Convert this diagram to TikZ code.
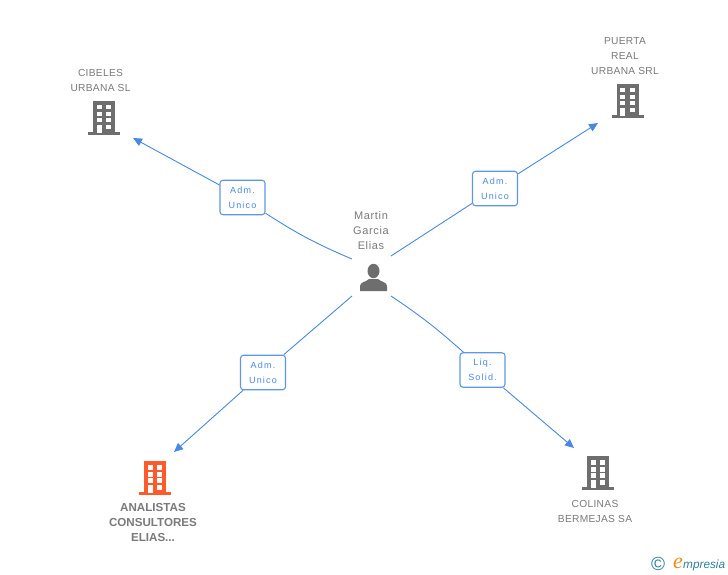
\documentclass[tikz,border=0pt]{standalone}
\usepackage{fontspec}
\setmainfont{Liberation Sans}
\newfontfamily\labfont[LetterSpace=3]{Liberation Sans}
\newfontfamily\persfont[LetterSpace=6]{Liberation Sans}
\newfontfamily\boxfont[LetterSpace=13]{Liberation Sans}
\newfontfamily\logoe{Liberation Serif}
\usetikzlibrary{arrows.meta}
\definecolor{linkblue}{HTML}{4A88E2}
\definecolor{boxblue}{HTML}{5E97E6}
\definecolor{iconA}{HTML}{6E6E6E}
\definecolor{iconB}{HTML}{FF5A2C}
\definecolor{txt}{HTML}{7A7A7A}
\definecolor{logoT}{HTML}{2F7F96}
\definecolor{logoO}{HTML}{F08A1D}
\tikzset{
  x=1pt,y=-1pt,
  link/.style={draw=linkblue,line width=0.9pt},
  tip/.style={link,-{Triangle[length=9pt,width=8pt,fill=linkblue]}},
  rolebox/.style={draw=boxblue,line width=1.1pt,rounded corners=3pt,fill=white,
     minimum width=45pt,minimum height=34.5pt,inner sep=0pt,align=center,text=linkblue,
     font=\fontsize{9}{15}\boxfont},
  lab/.style={align=center,text=txt,inner sep=0pt,font=\fontsize{10.2}{15}\labfont},
  labb/.style={align=center,text=txt,inner sep=0pt,font=\fontsize{11.6}{15}\selectfont\bfseries},
  pers/.style={align=center,text=txt,inner sep=0pt,font=\fontsize{11}{15}\persfont},
  bldg/.pic={
    \fill[pic actions] (-11,0) rectangle (11,32);
    \fill[pic actions] (-16,31) rectangle (16,34);
    \foreach \yy in {4,11,17}{
      \fill[white] (-7.5,\yy) rectangle (-2.5,\yy+4.5);
      \fill[white] (2,\yy) rectangle (7,\yy+4.5);
    }
    \fill[white] (-7.5,24) rectangle (-2.5,32);
    \fill[white] (2,24) rectangle (7,28.5);
  }
}
\begin{document}
\begin{tikzpicture}
\useasboundingbox (0,0) rectangle (728,575);
\fill[white] (0,0) rectangle (728,575);
% anchors
\coordinate (pNW) at (352,259);
\coordinate (pNE) at (391,256);
\coordinate (pSW) at (352,296);
\coordinate (pSE) at (391,296);
\coordinate (tCib) at (133,138);
\coordinate (tPue) at (598,123);
\coordinate (tAna) at (174,452);
\coordinate (tCol) at (574,448);
% role boxes
\node[rolebox] (bCib) at (242.5,197.5) {\raisebox{-1pt}{\parbox{45pt}{\centering Adm.\\Unico}}};
\node[rolebox] (bPue) at (495,188.5) {\raisebox{-1pt}{\parbox{45pt}{\centering Adm.\\Unico}}};
\node[rolebox] (bAna) at (263,372.5) {\raisebox{-1pt}{\parbox{45pt}{\centering Adm.\\Unico}}};
\node[rolebox] (bCol) at (482.5,370) {\raisebox{-1pt}{\parbox{45pt}{\centering Liq.\\Solid.}}};
% connectors
\draw[link] (pNW) to[bend left=5] (bCib);
\draw[tip] (bCib) -- (tCib);
\draw[link] (pNE) -- (bPue);
\draw[tip] (bPue) -- (tPue);
\draw[link] (pSW) -- (bAna);
\draw[tip] (bAna) -- (tAna);
\draw[link] (pSE) to[bend left=4] (bCol);
\draw[tip] (bCol) -- (tCol);
% icons
\pic[fill=iconA] at (104,101) {bldg};
\pic[fill=iconA] at (627.5,84) {bldg};
\pic[fill=iconB] at (155,461) {bldg};
\pic[fill=iconA] at (598,456) {bldg};
% person
\fill[iconA] (373.5,271) ellipse (6pt and 7.2pt);
\fill[iconA] (360,291) -- (360,286) .. controls (360,282) and (366,282) .. (369,279)
  -- (378,279) .. controls (381,282) and (387,282) .. (387,286) -- (387,291) -- cycle;
% labels
\node[lab] (lCib) at (100.5,80.5) {CIBELES\\URBANA SL};
\node[lab] (lPue) at (625,56.5) {PUERTA\\REAL\\URBANA SRL};
\node[labb] (lAna) at (153,523) {ANALISTAS\\CONSULTORES\\ELIAS...};
\node[lab] (lCol) at (595,511) {COLINAS\\BERMEJAS SA};
\node[pers] (lPer) at (371,231) {Martin\\Garcia\\Elias};
% logo
\node[text=logoT,inner sep=0pt,font=\fontsize{19}{19}\selectfont] (copy) at (658,564) {\copyright};
\node[text=logoO,inner sep=0pt,font=\fontsize{22}{22}\logoe\itshape] (logoE) at (678,563) {e};
\node[text=logoT,inner sep=0pt,anchor=west,font=\fontsize{11.8}{12}\itshape] (logoM) at (683,565) {mpresia};
\end{tikzpicture}
\end{document}
